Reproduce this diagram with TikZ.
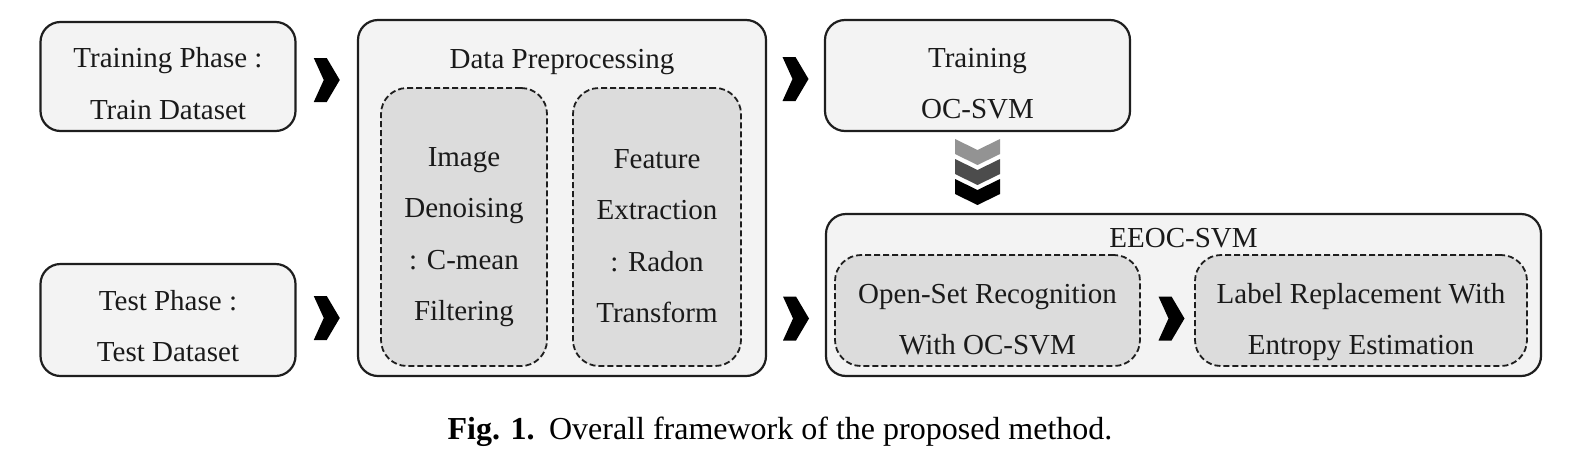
\documentclass[tikz,border=0pt]{standalone}
\usepackage{fontspec}
\setmainfont{Liberation Serif}
\usetikzlibrary{calc,positioning}
\definecolor{boxfill}{HTML}{F3F3F3}
\definecolor{innerfill}{HTML}{DCDCDC}
\definecolor{edgegray}{HTML}{1E1E1E}
\definecolor{txtgray}{HTML}{1A1A1A}
\newcommand{\boxfont}{\fontsize{29}{51.5}\selectfont}
\tikzset{
  phase/.style={draw=edgegray,line width=2.2pt,fill=boxfill,rounded corners=20pt,inner sep=0pt},
  substep/.style={draw=edgegray,line width=1.8pt,dash pattern=on 6pt off 3pt,fill=innerfill,
    rounded corners=26pt,inner sep=0pt},
  boxtext/.style={align=center,font=\boxfont,text=txtgray,inner sep=0pt},
  boxtitle/.style={anchor=base,font=\boxfont,text=txtgray,inner sep=0pt},
  rchev/.pic={\fill[black] (-13,-22) -- (0,-22) -- (13,0) -- (0,22) -- (-13,22) -- (-3,0) -- cycle;},
  dchev/.pic={\fill (-22.5,0) -- (0,11) -- (22.5,0) -- (22.5,15) -- (0,26) -- (-22.5,15) -- cycle;}
}

\begin{document}
\begin{tikzpicture}[x=1pt,y=-1pt]
  \useasboundingbox (0,0) rectangle (1570,461);

  % Input phases
  \node[phase,minimum width=255,minimum height=109] at (168,76.5) (train){};
  \node[boxtext] at ([yshift=-7pt]train.center) (traintxt){Training Phase :\\Train Dataset};
  \node[phase,minimum width=255,minimum height=112] at (168,320) (test){};
  \node[boxtext] at ([yshift=-6pt]test.center) (testtxt){Test Phase :\\Test Dataset};

  % Data preprocessing
  \node[phase,minimum width=408,minimum height=356] at (562,198) (prep){};
  \node[boxtitle] at (562,68) (preptitle){Data Preprocessing};
  \node[substep,minimum width=166,minimum height=278] at (464,227) (den){};
  \node[boxtext] at ([yshift=-10pt]den.center) (dentxt){Image\\Denoising\\: C-mean\\Filtering};
  \node[substep,minimum width=168,minimum height=278] at (657,227) (rad){};
  \node[boxtext] at ([yshift=-9pt]rad.center) (radtxt){Feature\\Extraction\\: Radon\\Transform};

  % Training
  \node[phase,minimum width=305,minimum height=111] at (977.5,75.5) (ocsvm){};
  \node[boxtext] at ([yshift=-8pt]ocsvm.center) (ocsvmtxt){Training\\OC-SVM};

  % EEOC-SVM
  \node[phase,minimum width=715,minimum height=162] at (1183.5,295) (eeoc){};
  \node[boxtitle] at (1183.5,247) (eeoctitle){EEOC-SVM};
  \node[substep,minimum width=305,minimum height=111] at (987.5,310.5) (osr){};
  \node[boxtext] at ([yshift=-9pt]osr.center) (osrtxt){Open-Set Recognition\\With OC-SVM};
  \node[substep,minimum width=332,minimum height=111] at (1361,310.5) (lre){};
  \node[boxtext] at ([yshift=-11.5pt]lre.center) (lretxt){Label Replacement With\\Entropy Estimation};

  % chevrons
  \pic at ($(train.east)!0.5!(train.east -| prep.west)+(0,3.5)$) {rchev};
  \pic at ($(test.east)!0.5!(test.east -| prep.west)+(0,-2)$) {rchev};
  \pic at ($(ocsvm.west -| prep.east)!0.5!(ocsvm.west)+(0,3.5)$) {rchev};
  \pic at ($(osr.west -| prep.east)!0.5!(osr.west -| eeoc.west)+(0,8)$) {rchev};
  \pic at ($(osr.east)!0.5!(lre.west)+(4,8)$) {rchev};
  \pic[gray!85] at (ocsvm.south |- 0,139) {dchev};
  \pic[black!70] at (ocsvm.south |- 0,159) {dchev};
  \pic[black] at (ocsvm.south |- 0,179) {dchev};

  % caption
  \node[font=\fontsize{32}{38}\selectfont,inner sep=0pt] at (780,432) (caption){\textbf{Fig. 1.}\hspace{0.45em}Overall framework of the proposed method.};
\end{tikzpicture}
\end{document}
